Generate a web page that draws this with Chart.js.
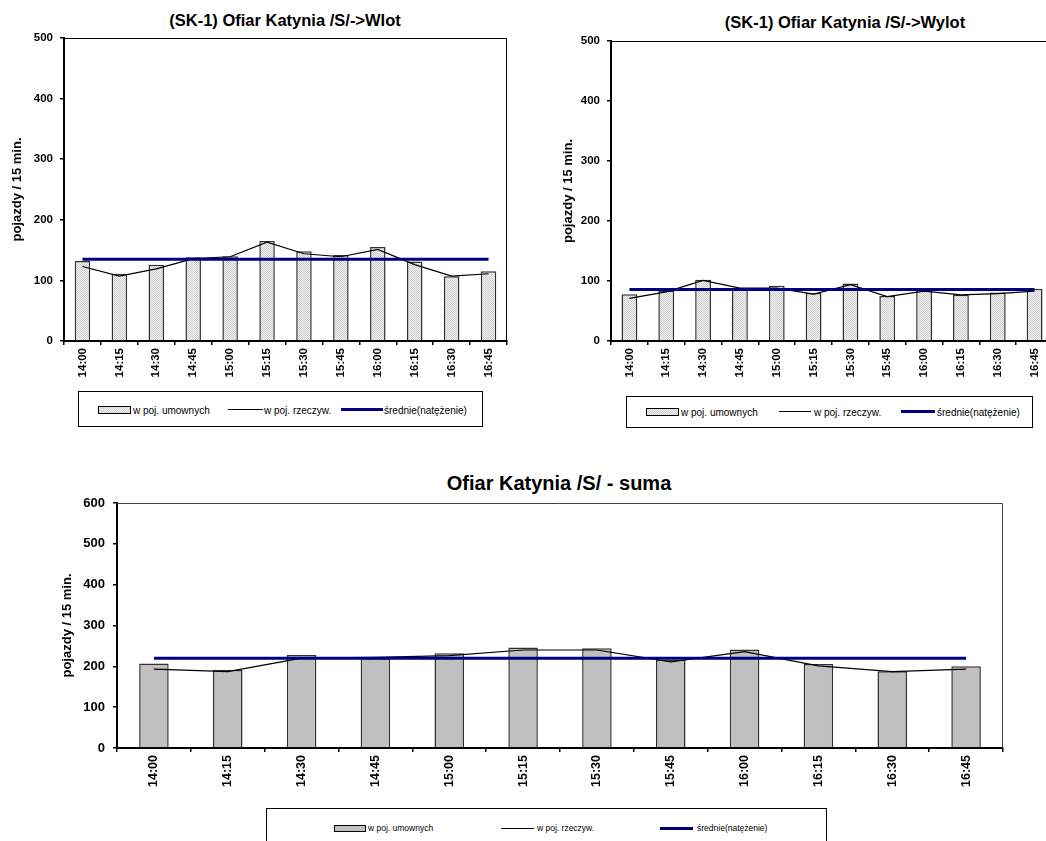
<!DOCTYPE html>
<html lang="pl">
<head>
<meta charset="UTF-8">
<title>Ofiar Katynia /S/ - natężenie ruchu</title>
<script src="https://cdn.jsdelivr.net/npm/chart.js"></script>
<style>
  html, body {
    margin: 0;
    padding: 0;
    width: 1046px;
    height: 841px;
    overflow: hidden;
    background: #fff;
    font-family: "Liberation Sans", Arial, sans-serif;
    color: #000;
  }
  canvas { position: absolute; }
  .tytul {
    position: absolute;
    font-weight: bold;
    white-space: nowrap;
    transform: translate(-50%, -50%);
  }
  .legenda {
    position: absolute;
    border: 1px solid #000;
    box-sizing: border-box;
    background: #fff;
  }
  .legenda span {
    position: absolute;
    white-space: nowrap;
    transform: translateY(-50%);
  }
  .legenda i { position: absolute; display: block; }
  .kratka {
    background: repeating-conic-gradient(#cfcfcf 0 25%, #f2f2f2 0 50%) 0 0 / 2px 2px;
    border: 1px solid #000;
    box-sizing: border-box;
  }
  .szary { background: #c0c0c0; border: 1px solid #000; box-sizing: border-box; }
  .czarna { background: #000; height: 1px; }
  .granat { background: #000080; height: 3px; }
</style>
</head>
<body>

  <!-- tytuly -->
  <div class="tytul" style="left:285px; top:20px; font-size:16.5px;">(SK-1) Ofiar Katynia /S/-&gt;Wlot</div>
  <div class="tytul" style="left:845px; top:22px; font-size:16.5px;">(SK-1) Ofiar Katynia /S/-&gt;Wylot</div>
  <div class="tytul" style="left:559px; top:483px; font-size:20px;">Ofiar Katynia /S/ - suma</div>

  <canvas id="wlot" width="520" height="390" style="left:0; top:0;"></canvas>
  <canvas id="wylot" width="560" height="390" style="left:520px; top:0;"></canvas>
  <canvas id="suma" width="1046" height="370" style="left:0; top:440px;"></canvas>

  <!-- legendy -->
  <div class="legenda" style="left:78px; top:391px; width:405px; height:36px; font-size:10px;">
    <i class="kratka" style="left:19px; top:14px; width:33px; height:8px;"></i>
    <span style="left:54px; top:18px;">w poj. umownych</span>
    <i class="czarna" style="left:149px; top:17px; width:35px;"></i>
    <span style="left:185px; top:18px;">w poj. rzeczyw.</span>
    <i class="granat" style="left:262px; top:16px; width:42px;"></i>
    <span style="left:305px; top:18px;">średnie(natężenie)</span>
  </div>

  <div class="legenda" style="left:626px; top:396px; width:407px; height:32px; font-size:10px;">
    <i class="kratka" style="left:19px; top:11px; width:33px; height:8px;"></i>
    <span style="left:54px; top:15px;">w poj. umownych</span>
    <i class="czarna" style="left:152px; top:14px; width:32px;"></i>
    <span style="left:187px; top:15px;">w poj. rzeczyw.</span>
    <i class="granat" style="left:274px; top:13px; width:34px;"></i>
    <span style="left:310px; top:15px;">średnie(natężenie)</span>
  </div>

  <div class="legenda" style="left:266px; top:808px; width:561px; height:40px; font-size:8.5px;">
    <i class="szary" style="left:67px; top:16px; width:32px; height:7px;"></i>
    <span style="left:101px; top:19px;">w poj. umownych</span>
    <i class="czarna" style="left:234px; top:19px; width:33px;"></i>
    <span style="left:270px; top:19px;">w poj. rzeczyw.</span>
    <i class="granat" style="left:393px; top:18px; width:33px;"></i>
    <span style="left:430px; top:19px;">średnie(natężenie)</span>
  </div>

<script>
  // dane
  const godziny = ['14:00', '14:15', '14:30', '14:45', '15:00', '15:15',
                   '15:30', '15:45', '16:00', '16:15', '16:30', '16:45'];

  const wlotUmowne  = [132, 111, 126, 138, 140, 165, 148, 142, 155, 131, 107, 115];
  const wlotRzecz   = [123, 107, 119, 136, 139, 163, 144, 139, 151, 126, 107, 111];
  const wlotSrednia = [135, 135, 135, 135, 135, 135, 135, 135, 135, 135, 135, 135];

  const wylotUmowne  = [78, 84, 102, 87, 92, 80, 96, 75, 85, 77, 81, 87];
  const wylotRzecz   = [71, 82, 101, 88, 88, 78, 94, 74, 83, 77, 79, 83];
  const wylotSrednia = [86, 86, 86, 86, 86, 86, 86, 86, 86, 86, 86, 86];

  const sumaUmowne  = [207, 191, 228, 220, 232, 246, 244, 216, 241, 206, 188, 200];
  const sumaRzecz   = [193, 187, 220, 222, 226, 240, 240, 211, 236, 201, 187, 193];
  const sumaSrednia = [220, 220, 220, 220, 220, 220, 220, 220, 220, 220, 220, 220];

  const osYGora = { max: 500, krok: 100 };
  const osYSuma = { max: 600, krok: 100 };

  Chart.defaults.font.family = "'Liberation Sans', Arial, sans-serif";
  Chart.defaults.color = '#000';

  // drobna kratka jak w Excelu
  function deseń() {
    const c = document.createElement('canvas');
    c.width = 2; c.height = 2;
    const g = c.getContext('2d');
    g.fillStyle = '#f2f2f2';
    g.fillRect(0, 0, 2, 2);
    g.fillStyle = '#cfcfcf';
    g.fillRect(0, 0, 1, 1);
    g.fillRect(1, 1, 1, 1);
    return c.getContext('2d').createPattern(c, 'repeat');
  }

  // cienka ramka u gory i z prawej strony obszaru wykresu
  const ramka = {
    id: 'ramka',
    afterDraw(chart, args, opts) {
      const { ctx, chartArea: a } = chart;
      ctx.save();
      ctx.strokeStyle = opts.kolor || '#000';
      ctx.lineWidth = 1;
      ctx.beginPath();
      ctx.moveTo(a.left, a.top + 0.5);
      ctx.lineTo(a.right - 0.5, a.top + 0.5);
      ctx.lineTo(a.right - 0.5, a.bottom);
      ctx.stroke();
      ctx.restore();
    }
  };

  function rysuj(id, umowne, rzecz, srednia, os, u) {
    const ctx = document.getElementById(id).getContext('2d');
    return new Chart(ctx, {
      type: 'bar',
      data: {
        labels: godziny,
        datasets: [
          {
            label: 'w poj. umownych',
            data: umowne,
            backgroundColor: u.wypelnienie,
            borderColor: '#303030',
            borderWidth: 1.5,
            barPercentage: u.szerokosc,
            categoryPercentage: 1,
            order: 3
          },
          {
            type: 'line',
            label: 'w poj. rzeczyw.',
            data: rzecz,
            borderColor: '#000',
            borderWidth: 1.2,
            pointRadius: 0,
            tension: 0,
            order: 2
          },
          {
            type: 'line',
            label: 'średnie(natężenie)',
            data: srednia,
            borderColor: '#000080',
            borderWidth: 3,
            pointRadius: 0,
            tension: 0,
            order: 1
          }
        ]
      },
      options: {
        responsive: false,
        animation: false,
        devicePixelRatio: 1,
        layout: { padding: u.padding },
        plugins: {
          legend: { display: false },
          tooltip: { enabled: false },
          ramka: { kolor: u.ramka }
        },
        scales: {
          x: {
            offset: true,
            grid: {
              offset: true,
              drawOnChartArea: false,
              tickLength: 4,
              color: '#000',
              lineWidth: 1.5
            },
            border: { color: '#000', width: 2 },
            ticks: {
              autoSkip: false,
              minRotation: 90,
              maxRotation: 90,
              padding: 3,
              font: { size: u.fontX, weight: 'bold' }
            },
            afterFit: (s) => { s.height = u.wysX; }
          },
          y: {
            min: 0,
            max: os.max,
            grid: {
              drawOnChartArea: false,
              tickLength: 4,
              color: '#000',
              lineWidth: 1.5
            },
            border: { color: '#000', width: 2 },
            ticks: {
              stepSize: os.krok,
              padding: u.padY,
              font: { size: u.fontY, weight: 'bold' }
            },
            title: {
              display: true,
              text: 'pojazdy / 15 min.',
              font: { size: 13, weight: 'bold' },
              padding: { top: u.tytulY, bottom: 0 }
            },
            afterFit: (s) => { s.width = u.szerY; }
          }
        }
      },
      plugins: [ramka]
    });
  }

  const wzor = deseń();

  rysuj('wlot', wlotUmowne, wlotRzecz, wlotSrednia, osYGora, {
    wypelnienie: wzor, szerokosc: 0.42, ramka: '#000',
    padding: { top: 38, right: 13, bottom: 0, left: 0 },
    szerY: 64, wysX: 49, fontX: 11.5, fontY: 11.5, padY: 7, tytulY: 10
  });

  rysuj('wylot', wylotUmowne, wylotRzecz, wylotSrednia, osYGora, {
    wypelnienie: wzor, szerokosc: 0.43, ramka: '#000',
    padding: { top: 41, right: 27, bottom: 0, left: 30 },
    szerY: 61, wysX: 49, fontX: 11.5, fontY: 11.5, padY: 7, tytulY: 11
  });

  rysuj('suma', sumaUmowne, sumaRzecz, sumaSrednia, osYSuma, {
    wypelnienie: '#c0c0c0', szerokosc: 0.4, ramka: '#404040',
    padding: { top: 63, right: 43, bottom: 0, left: 50 },
    szerY: 67, wysX: 62, fontX: 12.5, fontY: 13, padY: 8, tytulY: 10
  });
</script>
</body>
</html>
